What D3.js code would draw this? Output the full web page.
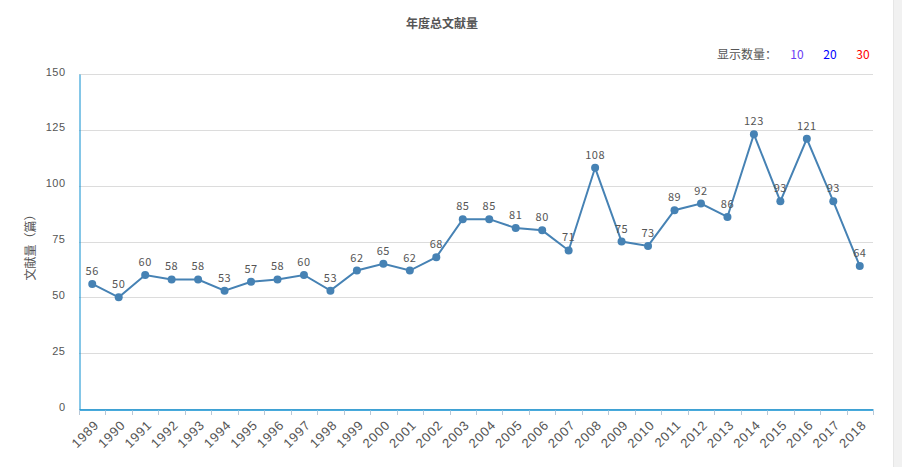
<!DOCTYPE html>
<html>
<head>
<meta charset="utf-8">
<script src="https://cdn.jsdelivr.net/npm/d3@7"></script>
<style>
  body { margin: 0; background: #fff; }
  svg { display: block; font-family: "Microsoft YaHei", "Noto Sans CJK SC", sans-serif; }
</style>
</head>
<body>
<div id="chart"></div>
<script>
// year totals
const YEARS = ['1989','1990','1991','1992','1993','1994','1995','1996','1997','1998',
               '1999','2000','2001','2002','2003','2004','2005','2006','2007','2008',
               '2009','2010','2011','2012','2013','2014','2015','2016','2017','2018'];
const COUNTS = [56,50,60,58,58,53,57,58,60,53,62,65,62,68,85,85,81,80,71,108,
                75,73,89,92,86,123,93,121,93,64];
const Y_TICKS = [0,25,50,75,100,125,150];
const SHOW_OPTS = ['10','20','30'];
const SHOW_COLORS = ['#6a3cf5','#0000ff','#ff0000'];

const FRAME_WIDTH = 902;
const FRAME_HEIGHT = 467;
const MARGINS = {left: 79, right: 29, top: 74, bottom: 58};

const svg = d3.select('#chart')
  .append('svg')
    .attr('width', FRAME_WIDTH)
    .attr('height', FRAME_HEIGHT);

// scrollbar strip on the right
svg.append('rect')
  .attr('x', 893).attr('y', 0)
  .attr('width', 9).attr('height', FRAME_HEIGHT)
  .attr('fill', '#f1f1f1');
svg.append('line')
  .attr('x1', 893.5).attr('x2', 893.5)
  .attr('y1', 0).attr('y2', FRAME_HEIGHT)
  .attr('stroke', '#e6e6e6');

const xScale = d3.scaleBand()
  .domain(YEARS)
  .range([MARGINS.left, FRAME_WIDTH - MARGINS.right]);

const yScale = d3.scaleLinear()
  .domain([0, 150])
  .range([FRAME_HEIGHT - MARGINS.bottom, MARGINS.top]);

// title
svg.append('text')
  .attr('x', 442).attr('y', 28)
  .attr('text-anchor', 'middle')
  .attr('font-size', 12).attr('font-weight', 'bold')
  .attr('fill', '#555')
  .text('年度总文献量');

// "show count" options
svg.append('text')
  .attr('x', 777).attr('y', 59)
  .attr('text-anchor', 'end')
  .attr('font-size', 12).attr('fill', '#555')
  .text('显示数量：');
svg.selectAll('.opt')
  .data(SHOW_OPTS)
  .enter()
  .append('text')
    .attr('class', 'opt')
    .attr('x', (d, i) => 797 + i * 33)
    .attr('y', 59)
    .attr('text-anchor', 'middle')
    .attr('font-size', 12)
    .attr('fill', (d, i) => SHOW_COLORS[i])
    .text(d => d);

// grid lines
svg.append('g')
  .selectAll('line')
  .data(Y_TICKS)
  .enter()
  .append('line')
    .attr('x1', MARGINS.left)
    .attr('x2', FRAME_WIDTH - MARGINS.right)
    .attr('y1', d => Math.round(yScale(d)) + 0.5)
    .attr('y2', d => Math.round(yScale(d)) + 0.5)
    .attr('stroke', '#dcdcdc');

// y axis
const yAxis = svg.append('g')
  .attr('transform', 'translate(' + (MARGINS.left + 0.5) + ',0)')
  .call(d3.axisLeft(yScale).tickValues(Y_TICKS).tickSize(0).tickPadding(14));
yAxis.select('.domain').attr('stroke', '#0b8ed0').attr('stroke-width', 1);
yAxis.selectAll('text')
  .attr('font-size', 11).attr('fill', '#555')
  .attr('letter-spacing', '0.5px')
  .attr('dy', '0.1em');

svg.append('text')
  .attr('transform', 'translate(35,' + (yScale(75) + 3) + ') rotate(-90)')
  .attr('text-anchor', 'middle')
  .attr('font-size', 12).attr('fill', '#555')
  .text('文献量（篇）');

// x axis
const xAxis = svg.append('g')
  .attr('transform', 'translate(0,' + (yScale(0) + 0.5) + ')')
  .call(d3.axisBottom(xScale).tickSize(0).tickPadding(0));
xAxis.select('.domain').attr('stroke', '#0b8ed0').attr('stroke-width', 1.5);
xAxis.selectAll('.tick text')
  .attr('font-size', 13).attr('fill', '#555')
  .attr('letter-spacing', '0.8px')
  .attr('text-anchor', 'end')
  .attr('transform', 'translate(1,10) rotate(-45)')
  .attr('dy', '0.7em');
svg.append('g')
  .selectAll('line')
  .data(YEARS.concat(['end']))
  .enter()
  .append('line')
    .attr('x1', (d, i) => Math.round(MARGINS.left + i * xScale.step()) + 0.5)
    .attr('x2', (d, i) => Math.round(MARGINS.left + i * xScale.step()) + 0.5)
    .attr('y1', yScale(0) + 1.5)
    .attr('y2', yScale(0) + 6)
    .attr('stroke', '#b8c8d8');

// line + points
const cx = (d, i) => xScale(YEARS[i]) + xScale.bandwidth() / 2;

svg.append('path')
  .datum(COUNTS)
  .attr('fill', 'none')
  .attr('stroke', '#4682b4')
  .attr('stroke-width', 2)
  .attr('d', d3.line().x(cx).y(d => yScale(d)));

svg.selectAll('.pt')
  .data(COUNTS)
  .enter()
  .append('circle')
    .attr('class', 'pt')
    .attr('cx', cx)
    .attr('cy', d => yScale(d))
    .attr('r', 4)
    .attr('fill', '#4682b4');

svg.selectAll('.lbl')
  .data(COUNTS)
  .enter()
  .append('text')
    .attr('class', 'lbl')
    .attr('x', cx)
    .attr('y', d => yScale(d) - 9)
    .attr('text-anchor', 'middle')
    .attr('font-size', 11)
    .attr('letter-spacing', '0.5px')
    .attr('fill', '#555')
    .text(d => d);
</script>
</body>
</html>
